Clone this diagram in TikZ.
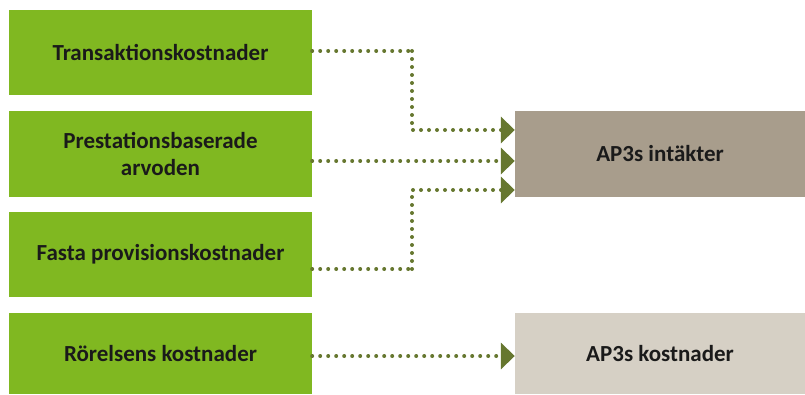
\documentclass[tikz,border=0pt]{standalone}
\usepackage{fontspec}
\setmainfont{Carlito}
\usepackage{tikz}
\usetikzlibrary{arrows,arrows.meta,calc,positioning}
\definecolor{boxgreen}{HTML}{80B821}
\definecolor{incomegray}{HTML}{A89D8C}
\definecolor{costgray}{HTML}{D6D0C5}
\definecolor{dotolive}{HTML}{66772F}
\definecolor{labelblack}{HTML}{1A1A1A}
\tikzset{source box/.style={
    fill=boxgreen,
    minimum width=303pt,
    minimum height=#1,
    align=center,
    inner sep=0pt,
    text=labelblack,
    font=\fontsize{23}{27}\selectfont\bfseries
  },
  source box/.default=85pt,
  target box/.style={
    fill=#1,
    minimum width=290pt,
    minimum height=86pt,
    inner sep=0pt,
    text=labelblack,
    font=\fontsize{23}{27}\selectfont\bfseries
  },
  dotted link/.style={
    dotolive,
    line width=4pt,
    line cap=round,
    dash pattern=on 0pt off 8pt,
    -{Triangle[length=14pt,width=26pt]}
  },
  dotted joint/.style={
    dotolive,
    line width=4pt,
    line cap=round,
    dash pattern=on 0pt off 8pt
  }
}

\begin{document}
\begin{tikzpicture}[x=1pt,y=1pt]
    \useasboundingbox (0,0) rectangle (805,394);
    % left column
    \node[source box] (trans) at (160.5,341.5) {Transaktionskostnader};
    \node[source box=86pt] (prest) at (160.5,240) {Prestationsbaserade\\arvoden};
    \node[source box] (fasta) at (160.5,139.5) {Fasta provisionskostnader};
    \node[source box=81pt] (rorel) at (160.5,40.5) {Rörelsens kostnader};
    % right column
    \node[target box=incomegray] (intakt) at (660,240) {AP3s intäkter};
    \node[target box=costgray,minimum height=81pt] (kostn) at (660,40.5) {AP3s kostnader};
    % links
    \coordinate (bend1) at (412,343);
    \coordinate (bend3) at (412,125);
    \draw[dotted joint] ([yshift=1.5pt]trans.east) -- (bend1);
    \draw[dotted link] (bend1) |- ([yshift=24pt]intakt.west);
    \draw[dotted link] ([yshift=-7pt]prest.east) -- ([yshift=-7pt]intakt.west);
    \draw[dotted joint] ([yshift=-14.5pt]fasta.east) -- (bend3);
    \draw[dotted link] (bend3) |- ([yshift=-36pt]intakt.west);
    \draw[dotted link] ([yshift=-2.5pt]rorel.east) -- ([yshift=-2.5pt]kostn.west);
\end{tikzpicture}
\end{document}
